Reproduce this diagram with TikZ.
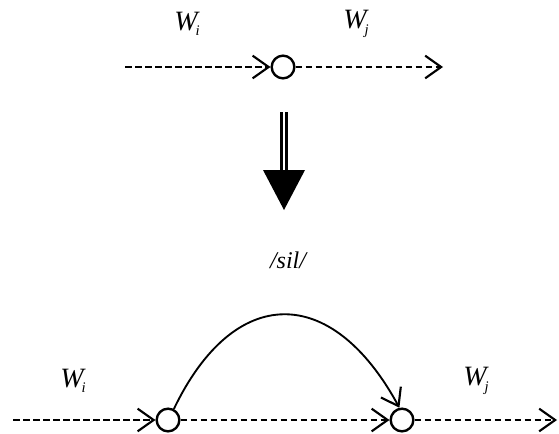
\documentclass[tikz,border=0pt]{standalone}
\usepackage{fontspec}
\setmainfont{Liberation Serif}
\usetikzlibrary{arrows.meta,positioning,calc}
\tikzset{
  knot/.style  ={draw,circle,line width=1.8pt,minimum size=17pt,inner sep=0pt},
  dline/.style ={line width=2.1pt,dash pattern=on 5pt off 2.5pt},
  ar/.style    ={-{Straight Barb[length=12pt,width=17pt,line width=1.6pt]}},
  word/.style  ={font=\fontsize{21}{23}\selectfont\itshape,inner sep=1pt},
  lbl/.style   ={font=\fontsize{18}{20}\selectfont\itshape,inner sep=1pt},
}
\newcommand{\wsub}[1]{W\kern-1.5pt\raisebox{-4pt}{\fontsize{11}{11}\selectfont #1}}

\begin{document}
\begin{tikzpicture}[x=0.75pt,y=0.75pt]
  \useasboundingbox (0,0) rectangle (559,433);
  % before
  \node[knot] (K) at (283,366) {};
  \coordinate (in) at (125,366);
  \coordinate (out) at (443,366);
  \draw[dline,ar] (in) -- (K);
  \draw[dline,ar] (K) -- (out);
  \node[word] (Wi) at (187,409) {\wsub{i}};
  \node[word] (Wj) at (356,409) {\wsub{j}};
  % rewrite arrow
  \coordinate (shaft) at (284,321);
  \coordinate (base) at (284,263);
  \coordinate (tip) at (284,223);
  \draw[double,double distance=2.2pt,line width=1.7pt] (shaft) -- (base);
  \fill ($(base)+(-21,0)$) -- ($(base)+(21,0)$) -- (tip) -- cycle;
  \node[lbl] (sil) at (288,173) {/sil/};
  % after
  \node[knot] (K1) at (168,13) {};
  \node[knot] (K2) at (402,13) {};
  \coordinate (start) at (13,13);
  \coordinate (end) at (557,13);
  \draw[dline,ar] (start) -- (K1);
  \draw[dline,ar] (K1) -- (K2);
  \draw[dline,ar] (K2) -- (end);
  \draw[line width=1.4pt,ar] (K1.62) .. controls +(60,125) and +(-68,125) .. (K2.102);
  \node[word] (Wi2) at (73,52) {\wsub{i}};
  \node[word] (Wj2) at (476,52) {\wsub{j}};
\end{tikzpicture}
\end{document}
